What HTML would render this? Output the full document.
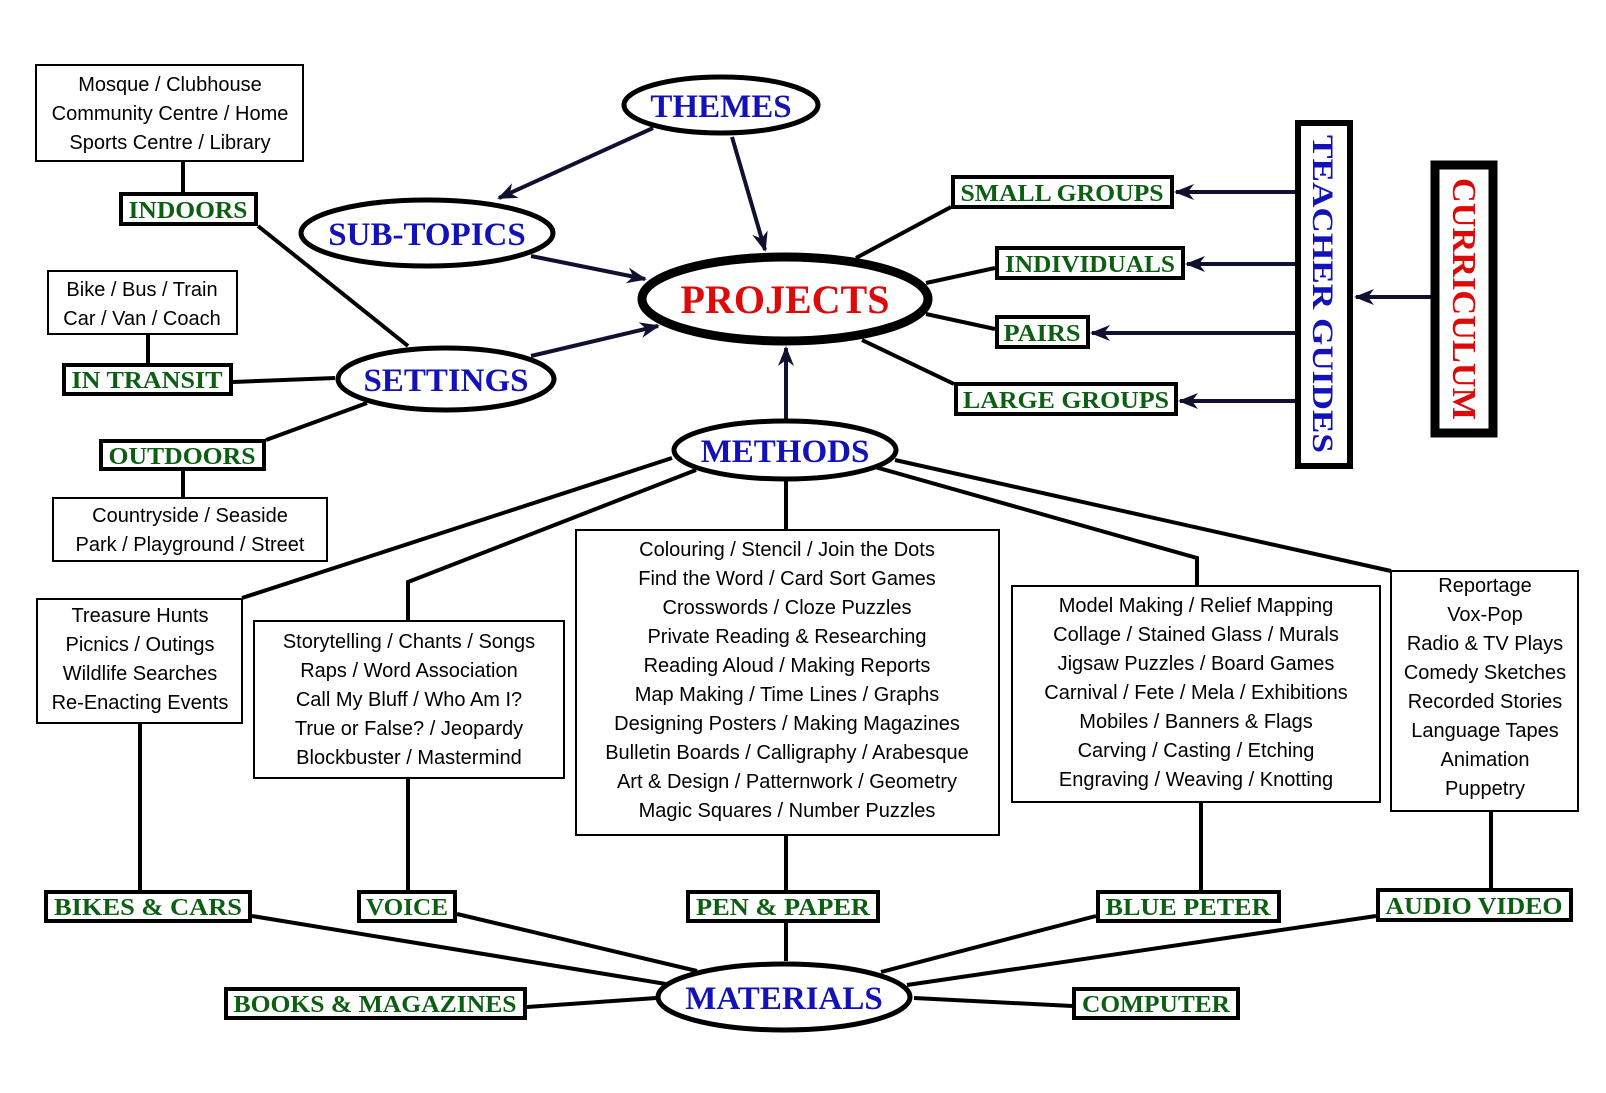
<!DOCTYPE html>
<html><head><meta charset="utf-8"><style>
html,body{margin:0;padding:0;background:#fff;}
svg{display:block;}
.t{font-family:"Liberation Sans",sans-serif;font-size:20px;fill:#000;text-anchor:middle;}
.g{font-family:"Liberation Serif",serif;font-weight:bold;font-size:24px;fill:#0b5e12;text-anchor:middle;}
.b{font-family:"Liberation Serif",serif;font-weight:bold;font-size:33px;fill:#1212b8;text-anchor:middle;}
</style></head><body>
<svg width="1606" height="1093" viewBox="0 0 1606 1093" xmlns="http://www.w3.org/2000/svg">
<defs>
<marker id="a" viewBox="0 0 20 16" refX="18" refY="8" markerWidth="20" markerHeight="16" markerUnits="userSpaceOnUse" orient="auto">
<path d="M0,0 L20,8 L0,16 L6,8 Z" fill="#101030"/></marker>
</defs>
<g stroke="#000" stroke-width="4" fill="none">
<!-- settings lines -->
<line x1="183" y1="161" x2="183" y2="192"/>
<line x1="258" y1="226" x2="408" y2="346"/>
<line x1="148" y1="334" x2="148" y2="363"/>
<line x1="233" y1="382" x2="335" y2="378"/>
<line x1="367" y1="403" x2="266" y2="440"/>
<line x1="183" y1="471" x2="183" y2="498"/>
<!-- projects to groups -->
<line x1="856" y1="258" x2="951" y2="207"/>
<line x1="926" y1="283" x2="995" y2="268"/>
<line x1="926" y1="314" x2="995" y2="329"/>
<line x1="862" y1="340" x2="954" y2="384"/>
<!-- methods -->
<line x1="672" y1="458" x2="242" y2="598"/>
<polyline points="696,470 408,582 408,621"/>
<line x1="786" y1="481" x2="786" y2="530"/>
<polyline points="875,467 1197,558 1197,586"/>
<line x1="895" y1="460" x2="1391" y2="571"/>
<!-- verticals to materials labels -->
<line x1="140" y1="723" x2="140" y2="890"/>
<line x1="408" y1="778" x2="408" y2="890"/>
<line x1="786" y1="835" x2="786" y2="890"/>
<line x1="1201" y1="802" x2="1201" y2="890"/>
<line x1="1491" y1="811" x2="1491" y2="888"/>
<!-- materials -->
<line x1="252" y1="916" x2="666" y2="984"/>
<line x1="457" y1="914" x2="697" y2="971"/>
<line x1="786" y1="923" x2="786" y2="961"/>
<line x1="1096" y1="916" x2="881" y2="972"/>
<line x1="1376" y1="916" x2="907" y2="985"/>
<line x1="527" y1="1007" x2="656" y2="998"/>
<line x1="914" y1="998" x2="1072" y2="1006"/>
</g>
<g stroke="#101030" stroke-width="4" fill="none" marker-end="url(#a)">
<line x1="653" y1="128" x2="499" y2="198"/>
<line x1="732" y1="137" x2="765" y2="250"/>
<line x1="531" y1="256" x2="645" y2="279"/>
<line x1="531" y1="356" x2="658" y2="326"/>
<line x1="786" y1="419" x2="786" y2="348"/>
<line x1="1295" y1="192" x2="1176" y2="192"/>
<line x1="1295" y1="264" x2="1187" y2="264"/>
<line x1="1295" y1="333" x2="1092" y2="333"/>
<line x1="1295" y1="401" x2="1180" y2="401"/>
<line x1="1431" y1="297" x2="1356" y2="297"/>
</g>
<!-- ellipses -->
<g fill="#fff" stroke="#000">
<ellipse cx="721" cy="105" rx="97" ry="28" stroke-width="5"/>
<ellipse cx="427" cy="233" rx="126" ry="33" stroke-width="5"/>
<ellipse cx="446" cy="379" rx="108" ry="31" stroke-width="5"/>
<ellipse cx="785" cy="450" rx="111" ry="29" stroke-width="5"/>
<ellipse cx="785" cy="299" rx="143" ry="42" stroke-width="9"/>
<ellipse cx="784" cy="997" rx="126" ry="33" stroke-width="5"/>
</g>
<text class="b" x="721" y="117">THEMES</text>
<text class="b" x="427" y="245">SUB-TOPICS</text>
<text class="b" x="446" y="391">SETTINGS</text>
<text class="b" x="785" y="462">METHODS</text>
<text class="b" x="784" y="1009">MATERIALS</text>
<text class="b" x="785" y="313" style="fill:#dd0a0a;font-size:40px">PROJECTS</text>
<!-- thin boxes -->
<g fill="#fff" stroke="#000" stroke-width="2">
<rect x="36" y="65" width="267" height="96"/>
<rect x="48" y="271" width="189" height="63"/>
<rect x="53" y="498" width="274" height="63"/>
<rect x="37" y="599" width="205" height="124"/>
<rect x="254" y="621" width="310" height="157"/>
<rect x="576" y="530" width="423" height="305"/>
<rect x="1012" y="586" width="368" height="216"/>
<rect x="1391" y="571" width="187" height="240"/>
</g>
<g class="t">
<text x="170" y="91">Mosque / Clubhouse</text>
<text x="170" y="120">Community Centre / Home</text>
<text x="170" y="149">Sports Centre / Library</text>
<text x="142" y="296">Bike / Bus / Train</text>
<text x="142" y="325">Car / Van / Coach</text>
<text x="190" y="522">Countryside / Seaside</text>
<text x="190" y="551">Park / Playground / Street</text>
<text x="140" y="622">Treasure Hunts</text>
<text x="140" y="651">Picnics / Outings</text>
<text x="140" y="680">Wildlife Searches</text>
<text x="140" y="709">Re-Enacting Events</text>
<text x="409" y="648">Storytelling / Chants / Songs</text>
<text x="409" y="677">Raps / Word Association</text>
<text x="409" y="706">Call My Bluff / Who Am I?</text>
<text x="409" y="735">True or False? / Jeopardy</text>
<text x="409" y="764">Blockbuster / Mastermind</text>
<text x="787" y="556">Colouring / Stencil / Join the Dots</text>
<text x="787" y="585">Find the Word / Card Sort Games</text>
<text x="787" y="614">Crosswords / Cloze Puzzles</text>
<text x="787" y="643">Private Reading &amp; Researching</text>
<text x="787" y="672">Reading Aloud / Making Reports</text>
<text x="787" y="701">Map Making / Time Lines / Graphs</text>
<text x="787" y="730">Designing Posters / Making Magazines</text>
<text x="787" y="759">Bulletin Boards / Calligraphy / Arabesque</text>
<text x="787" y="788">Art &amp; Design / Patternwork / Geometry</text>
<text x="787" y="817">Magic Squares / Number Puzzles</text>
<text x="1196" y="612">Model Making / Relief Mapping</text>
<text x="1196" y="641">Collage / Stained Glass / Murals</text>
<text x="1196" y="670">Jigsaw Puzzles / Board Games</text>
<text x="1196" y="699">Carnival / Fete / Mela / Exhibitions</text>
<text x="1196" y="728">Mobiles / Banners &amp; Flags</text>
<text x="1196" y="757">Carving / Casting / Etching</text>
<text x="1196" y="786">Engraving / Weaving / Knotting</text>
<text x="1485" y="592">Reportage</text>
<text x="1485" y="621">Vox-Pop</text>
<text x="1485" y="650">Radio &amp; TV Plays</text>
<text x="1485" y="679">Comedy Sketches</text>
<text x="1485" y="708">Recorded Stories</text>
<text x="1485" y="737">Language Tapes</text>
<text x="1485" y="766">Animation</text>
<text x="1485" y="795">Puppetry</text>
</g>
<!-- green labels -->
<g fill="#fff" stroke="#000" stroke-width="4">
<rect x="121" y="194" width="135" height="30"/>
<rect x="64" y="365" width="167" height="29"/>
<rect x="101" y="441" width="163" height="28"/>
<rect x="953" y="177" width="219" height="30"/>
<rect x="997" y="248" width="186" height="30"/>
<rect x="997" y="317" width="91" height="30"/>
<rect x="956" y="384" width="220" height="30"/>
<rect x="46" y="892" width="204" height="29"/>
<rect x="359" y="892" width="96" height="29"/>
<rect x="688" y="892" width="190" height="29"/>
<rect x="1098" y="892" width="181" height="29"/>
<rect x="1378" y="890" width="193" height="30"/>
<rect x="226" y="989" width="299" height="29"/>
<rect x="1074" y="989" width="164" height="29"/>
</g>
<g class="g">
<text x="188" y="218" textLength="119" lengthAdjust="spacingAndGlyphs">INDOORS</text>
<text x="147" y="388" textLength="151" lengthAdjust="spacingAndGlyphs">IN TRANSIT</text>
<text x="182" y="464" textLength="147" lengthAdjust="spacingAndGlyphs">OUTDOORS</text>
<text x="1062" y="201" textLength="203" lengthAdjust="spacingAndGlyphs">SMALL GROUPS</text>
<text x="1090" y="272" textLength="170" lengthAdjust="spacingAndGlyphs">INDIVIDUALS</text>
<text x="1042" y="341" textLength="77" lengthAdjust="spacingAndGlyphs">PAIRS</text>
<text x="1066" y="408" textLength="206" lengthAdjust="spacingAndGlyphs">LARGE GROUPS</text>
<text x="148" y="915" textLength="188" lengthAdjust="spacingAndGlyphs">BIKES &amp; CARS</text>
<text x="407" y="915" textLength="82" lengthAdjust="spacingAndGlyphs">VOICE</text>
<text x="783" y="915" textLength="174" lengthAdjust="spacingAndGlyphs">PEN &amp; PAPER</text>
<text x="1188" y="915" textLength="165" lengthAdjust="spacingAndGlyphs">BLUE PETER</text>
<text x="1474" y="914" textLength="177" lengthAdjust="spacingAndGlyphs">AUDIO VIDEO</text>
<text x="375" y="1012" textLength="283" lengthAdjust="spacingAndGlyphs">BOOKS &amp; MAGAZINES</text>
<text x="1156" y="1012" textLength="148" lengthAdjust="spacingAndGlyphs">COMPUTER</text>
</g>
<!-- vertical boxes -->
<rect x="1298" y="123" width="52" height="343" fill="#fff" stroke="#000" stroke-width="6"/>
<rect x="1435" y="165" width="58" height="268" fill="#fff" stroke="#000" stroke-width="9"/>
<text class="b" transform="translate(1313,294) rotate(90)" style="font-size:30px" textLength="318" lengthAdjust="spacingAndGlyphs">TEACHER GUIDES</text>
<text class="b" transform="translate(1453,299) rotate(90)" style="font-size:34px;fill:#dd0a0a" textLength="242" lengthAdjust="spacingAndGlyphs">CURRICULUM</text>
</svg>
</body></html>
